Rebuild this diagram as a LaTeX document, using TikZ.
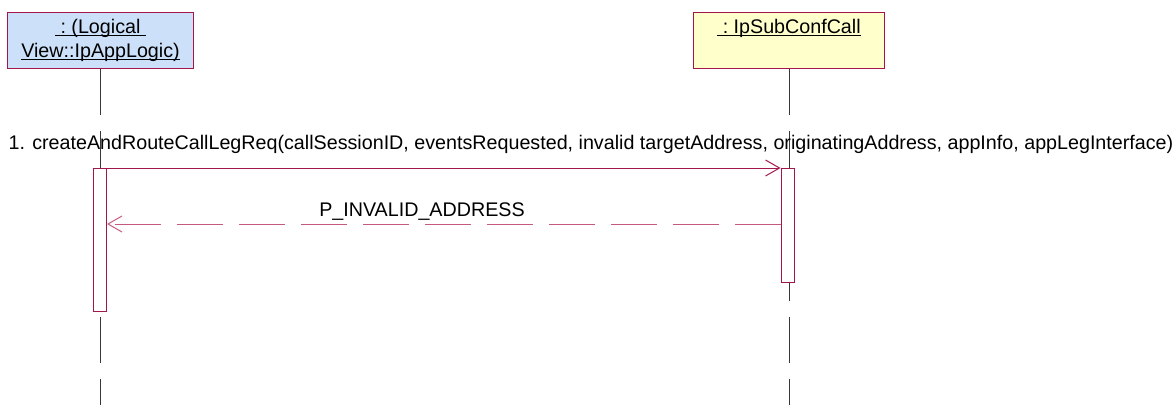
\documentclass[tikz,border=0pt]{standalone}
\usepackage{fontspec}
\setmainfont{Liberation Sans}
\usetikzlibrary{arrows.meta,positioning,calc}
\definecolor{UmlRed}{HTML}{A3164C}
\definecolor{UmlPink}{HTML}{C65A7C}
\definecolor{ObjBlue}{HTML}{CCE0FA}
\definecolor{ObjYellow}{HTML}{FFFFCC}
\definecolor{LifeGray}{HTML}{383838}
\newcommand{\diafont}{\fontsize{19.7}{24}\selectfont}
\newcommand{\objname}[1]{\setbox0\hbox{#1}\rlap{\rule[-2.5pt]{\wd0}{1.2pt}}\box0\strut}
\tikzset{
  objbox/.style={draw=UmlRed,line width=1pt,align=center,inner sep=0pt,
              minimum height=56pt,font=\diafont},
  actbar/.style={draw=UmlRed,line width=1pt,fill=white,minimum width=13pt,inner sep=0pt},
  lifeline/.style={draw=LifeGray,line width=1pt,dash pattern=on 46pt off 16pt},
  msg/.style={-{Straight Barb[length=14pt,width=16pt,line width=1pt]},line width=1pt,draw=UmlRed},
  reply/.style={-{Straight Barb[length=14pt,width=16pt,line width=1pt]},line width=1pt,draw=UmlPink,
              dash pattern=on 46pt off 16pt},
  msglabel/.style={font=\diafont,inner sep=0pt,anchor=base}
}
\begin{document}
\begin{tikzpicture}[x=1pt,y=-1pt]
  \useasboundingbox (0,0) rectangle (1174,405);
  \node[objbox,fill=ObjBlue,minimum width=186pt,anchor=north west] (logic) at (7,12)
    {\objname{\ :\ (Logical\ }\\\objname{View::IpAppLogic)}};
  \node[objbox,fill=ObjYellow,minimum width=191pt,right=499pt of logic] (subconf)
    {\objname{\ :\ IpSubConfCall}\\\strut};

  \coordinate (bottom) at (0,405);
  \draw[lifeline] (logic.south) -- (logic.south |- bottom);
  \draw[lifeline] (subconf.south) -- (subconf.south |- bottom);

  \node[actbar,minimum height=143pt,anchor=north] (actlogic) at (100,168) {};
  \node[actbar,minimum height=114pt,anchor=north] (actsub) at (787.5,168) {};

  \node[msglabel] (createreq) at (591,149)
    {1. createAndRouteCallLegReq(callSessionID, eventsRequested, invalid targetAddress, originatingAddress, appInfo, appLegInterface)};
  \draw[msg] (actlogic.north east) -- (actsub.north west);

  \coordinate (replyrow) at (0,224);
  \node[msglabel] (invalidaddr) at (422,216) {P\_INVALID\_ADDRESS};
  \draw[reply] (actsub.west |- replyrow) -- (actlogic.east |- replyrow);
\end{tikzpicture}
\end{document}
